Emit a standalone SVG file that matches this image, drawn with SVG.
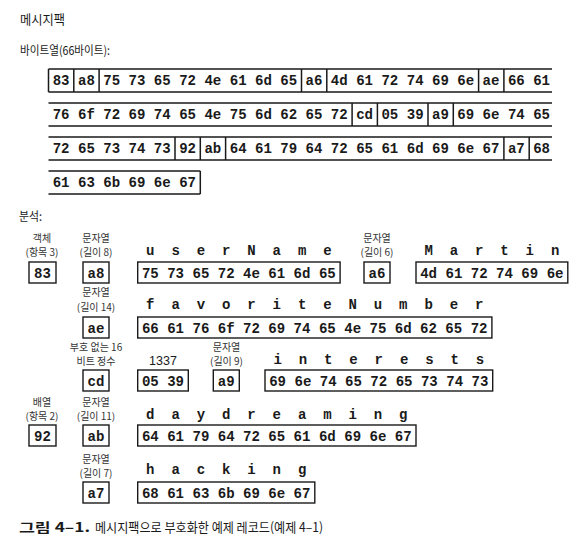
<svg xmlns="http://www.w3.org/2000/svg" width="588" height="556" viewBox="0 0 588 556">
<style>
text{fill:#1a1a1a}
.t{font-family:"Noto Sans CJK KR","Noto Sans",sans-serif}
.hex{font-family:"Liberation Mono",monospace;font-weight:bold;font-size:14.06px}
.c{text-anchor:middle}
.lt{font-family:"Liberation Mono",monospace;font-weight:bold;font-size:14px;text-anchor:middle}
.lbl{font-family:"Noto Sans CJK KR","Noto Sans",sans-serif;font-size:10px;text-anchor:middle;fill:#333}
.box{fill:#fff;stroke:#1a1a1a;stroke-width:1.4}
.ln{stroke:#1a1a1a;stroke-width:1.5;fill:none}
</style>
<rect width="588" height="556" fill="#fff"/>
<g id="titles">
<text class="t" x="20" y="24" font-size="13" textLength="45" lengthAdjust="spacingAndGlyphs">메시지팩</text>
<text class="t" x="20" y="55" font-size="12" textLength="90" lengthAdjust="spacingAndGlyphs">바이트열(66바이트):</text>
<text class="t" x="19" y="221" font-size="12" textLength="23" lengthAdjust="spacingAndGlyphs">분석:</text>
</g>
<g id="bytes">
<g class="ln">
<path d="M48.5 69H552M48.5 92H552M48.5 103H552M48.5 126H552M48.5 137H552M48.5 160H552M48.5 171H200.3M48.5 194H200.3"/>
<path d="M48.5 69V92M73.8 69V92M99.1 69V92M301.5 69V92M326.8 69V92M478.6 69V92M503.9 69V92"/>
<path d="M352.1 103V126M377.4 103V126M428 103V126M453.3 103V126"/>
<path d="M175 137V160M200.3 137V160M225.6 137V160M503.9 137V160M529.2 137V160"/>
<path d="M200.3 171V194"/>
</g>
<text class="hex" x="52.7" y="85">83 a8 75 73 65 72 4e 61 6d 65 a6 4d 61 72 74 69 6e ae 66 61</text>
<text class="hex" x="52.7" y="119">76 6f 72 69 74 65 4e 75 6d 62 65 72 cd 05 39 a9 69 6e 74 65</text>
<text class="hex" x="52.7" y="153">72 65 73 74 73 92 ab 64 61 79 64 72 65 61 6d 69 6e 67 a7 68</text>
<text class="hex" x="52.7" y="187">61 63 6b 69 6e 67</text>
</g>
<g id="n83">
<text class="lbl" x="42" y="242">객체</text>
<text class="lbl" x="42" y="256">(항목 3)</text>
<rect class="box" x="29" y="262" width="27" height="21"/>
<text class="hex c" x="42.5" y="278">83</text>
</g>
<g id="na8">
<text class="lbl" x="96" y="242">문자열</text>
<text class="lbl" x="96" y="256">(길이 8)</text>
<rect class="box" x="83" y="262" width="26" height="21"/>
<text class="hex c" x="96" y="278">a8</text>
</g>
<g id="nUserName">
<text class="lt" x="150.3 175.6 200.9 226.2 251.5 276.8 302.1 327.4" y="255">userName</text>
<rect class="box" x="137.7" y="262" width="202.4" height="21"/>
<text class="hex" x="141.9" y="278">75 73 65 72 4e 61 6d 65</text>
</g>
<g id="na6">
<text class="lbl" x="377" y="242">문자열</text>
<text class="lbl" x="377" y="256">(길이 6)</text>
<rect class="box" x="364" y="262" width="26" height="21"/>
<text class="hex c" x="377" y="278">a6</text>
</g>
<g id="nMartin">
<text class="lt" x="428.6 453.9 479.2 504.5 529.8 555.1" y="255">Martin</text>
<rect class="box" x="416" y="262" width="151.8" height="21"/>
<text class="hex" x="420.2" y="278">4d 61 72 74 69 6e</text>
</g>
<g id="nae">
<text class="lbl" x="96" y="296">문자열</text>
<text class="lbl" x="96" y="311">(길이 14)</text>
<rect class="box" x="83" y="317" width="26" height="21"/>
<text class="hex c" x="96" y="333">ae</text>
</g>
<g id="nFavorite">
<text class="lt" x="150.3 175.6 200.9 226.2 251.5 276.8 302.1 327.4 352.7 378 403.3 428.6 453.9 479.2" y="309">favoriteNumber</text>
<rect class="box" x="137.7" y="317" width="354.2" height="21"/>
<text class="hex" x="141.9" y="333">66 61 76 6f 72 69 74 65 4e 75 6d 62 65 72</text>
</g>
<g id="ncd">
<text class="lbl" x="96" y="351">부호 없는 16</text>
<text class="lbl" x="96" y="365">비트 정수</text>
<rect class="box" x="83" y="370" width="26" height="21"/>
<text class="hex c" x="96" y="386">cd</text>
</g>
<g id="n1337">
<text x="163" y="364.5" font-family="Liberation Sans, Arial, sans-serif" font-size="12.5" text-anchor="middle">1337</text>
<rect class="box" x="137.7" y="370" width="50.6" height="21"/>
<text class="hex" x="141.9" y="386">05 39</text>
</g>
<g id="na9">
<text class="lbl" x="226.5" y="351">문자열</text>
<text class="lbl" x="226.5" y="365">(길이 9)</text>
<rect class="box" x="213.3" y="370" width="26" height="21"/>
<text class="hex c" x="226.3" y="386">a9</text>
</g>
<g id="nInterests">
<text class="lt" x="277.6 302.9 328.2 353.5 378.8 404.1 429.4 454.7 480" y="364">interests</text>
<rect class="box" x="265" y="370" width="227.7" height="21"/>
<text class="hex" x="269.2" y="386">69 6e 74 65 72 65 73 74 73</text>
</g>
<g id="n92">
<text class="lbl" x="42" y="406">배열</text>
<text class="lbl" x="42" y="420">(항목 2)</text>
<rect class="box" x="29" y="425" width="27" height="21"/>
<text class="hex c" x="42.5" y="441">92</text>
</g>
<g id="nab">
<text class="lbl" x="96" y="406">문자열</text>
<text class="lbl" x="96" y="420">(길이 11)</text>
<rect class="box" x="83" y="425" width="26" height="21"/>
<text class="hex c" x="96" y="441">ab</text>
</g>
<g id="nDaydreaming">
<text class="lt" x="150.3 175.6 200.9 226.2 251.5 276.8 302.1 327.4 352.7 378 403.3" y="419">daydreaming</text>
<rect class="box" x="137.7" y="425" width="278.3" height="21"/>
<text class="hex" x="141.9" y="441">64 61 79 64 72 65 61 6d 69 6e 67</text>
</g>
<g id="na7">
<text class="lbl" x="96" y="463">문자열</text>
<text class="lbl" x="96" y="477">(길이 7)</text>
<rect class="box" x="83" y="482" width="26" height="21"/>
<text class="hex c" x="96" y="498">a7</text>
</g>
<g id="nHacking">
<text class="lt" x="150.3 175.6 200.9 226.2 251.5 276.8 302.1" y="474">hacking</text>
<rect class="box" x="137.7" y="482" width="177.1" height="21"/>
<text class="hex" x="141.9" y="498">68 61 63 6b 69 6e 67</text>
</g>
<g id="connectors"></g>
<g id="caption">
<text class="t" x="19" y="532" font-size="13" font-weight="bold" textLength="71" lengthAdjust="spacingAndGlyphs">그림 4–1.</text>
<text class="t" x="95" y="532" font-size="13" textLength="228" lengthAdjust="spacingAndGlyphs">메시지팩으로 부호화한 예제 레코드(예제 4–1)</text>
</g>
</svg>
